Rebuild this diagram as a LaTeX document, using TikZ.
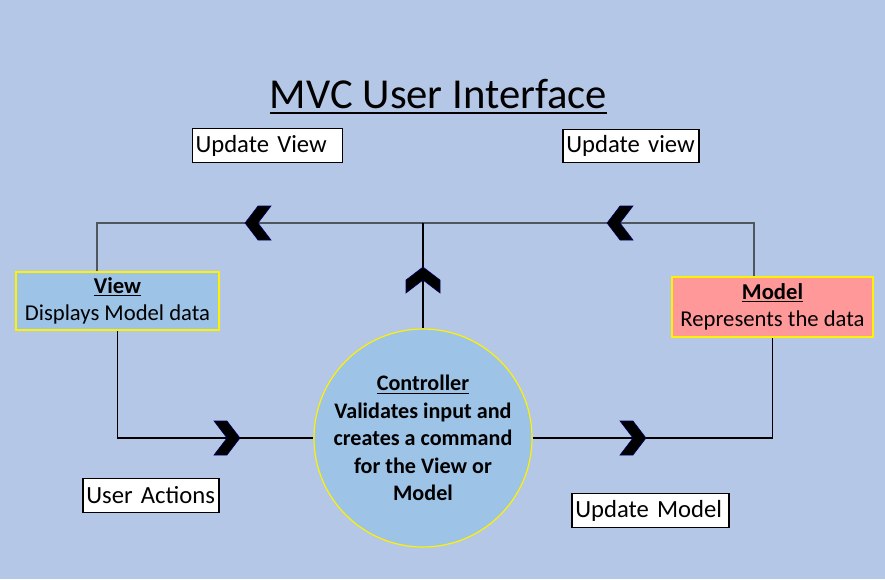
\documentclass[tikz,border=0pt]{standalone}
\usepackage{fontspec}
\setmainfont{Carlito}
\usepackage{tikz}
\usetikzlibrary{calc}

\definecolor{bgblue}{HTML}{B4C7E7}
\definecolor{boxblue}{HTML}{9DC3E6}
\definecolor{boxred}{HTML}{FF9999}
\definecolor{railgray}{HTML}{4F5660}

\tikzset{
  chevron/.pic={
    \filldraw[fill=black, draw=blue!40!black, line width=0.4pt]
      (-13,-17) -- (0,-17) -- (13,0) -- (0,17) -- (-13,17) -- (0,0) -- cycle;
  }
}

\begin{document}
\begin{tikzpicture}[x=0.75pt, y=-0.75pt,
      part/.style={
            rectangle, draw=yellow, line width=1.1pt,
            align=center, inner sep=0pt, text=black,
            font=\fontsize{17}{20.25}\selectfont
        },
      tag/.style={
            rectangle, draw=black, fill=white, line width=0.9pt,
            align=left, inner xsep=2.5pt, inner ysep=0pt,
            minimum height=25pt, font=\fontsize{18.5}{20}\selectfont
        },
      flow/.style={draw=black, line width=1.1pt},
      rail/.style={draw=railgray, line width=1.8pt}
      ]
    \fill[bgblue] (0,0) rectangle (885,579);
    \useasboundingbox (0,0) rectangle (885,579);

    % title
    \node[inner sep=0pt, anchor=base, font=\fontsize{32}{36}\selectfont] (T) at (438.5,108) {MVC User Interface};
    \draw[line width=1.3pt] ([yshift=-3.75pt]T.base west) -- ([yshift=-3.75pt]T.base east);

    % the three parts
    \node[part, fill=boxblue, minimum width=152pt, minimum height=43.5pt] (V) at (117.5,301)
      {\underline{\textbf{View}}\\Displays Model data};
    \node[part, fill=boxred, minimum width=150.75pt, minimum height=45pt] (M) at (772.5,307)
      {\underline{\textbf{Model}}\\Represents the data};
    \node[part, circle, fill=boxblue, minimum size=162pt, line width=0.9pt,
          font=\bfseries\fontsize{16.6}{20.6}\selectfont] (C) at (423,438)
      {\underline{Controller}\\Validates input and\\creates a command\\for the View or\\Model};

    % labels
    \node[tag, text width=108pt] (UV) at (267.5,145.5) {Update View};
    \node[tag, text width=97pt] (Uv) at (631,146) {Update view};
    \node[tag, text width=97pt] (UA) at (151,495.5) {User Actions};
    \node[tag, text width=112.75pt] (UM) at (650.5,510.5) {Update Model};

    % connectors
    \coordinate (J) at (423,223);
    \draw[rail] ($(V.north)+(-20.5,0)$) |- (J) -| ($(M.north)+(-18.5,0)$);
    \draw[flow] (C.north) -- (J);
    \draw[flow] (V.south) |- (C.west);
    \draw[flow] (C.east) -| (M.south);

    \pic at (227,438) {chevron};
    \pic at (633,438) {chevron};
    \pic[rotate=180] at (258,223) {chevron};
    \pic[rotate=180] at (620,223) {chevron};
    \pic[rotate=90] at (423,280) {chevron};
  \end{tikzpicture}
\end{document}
